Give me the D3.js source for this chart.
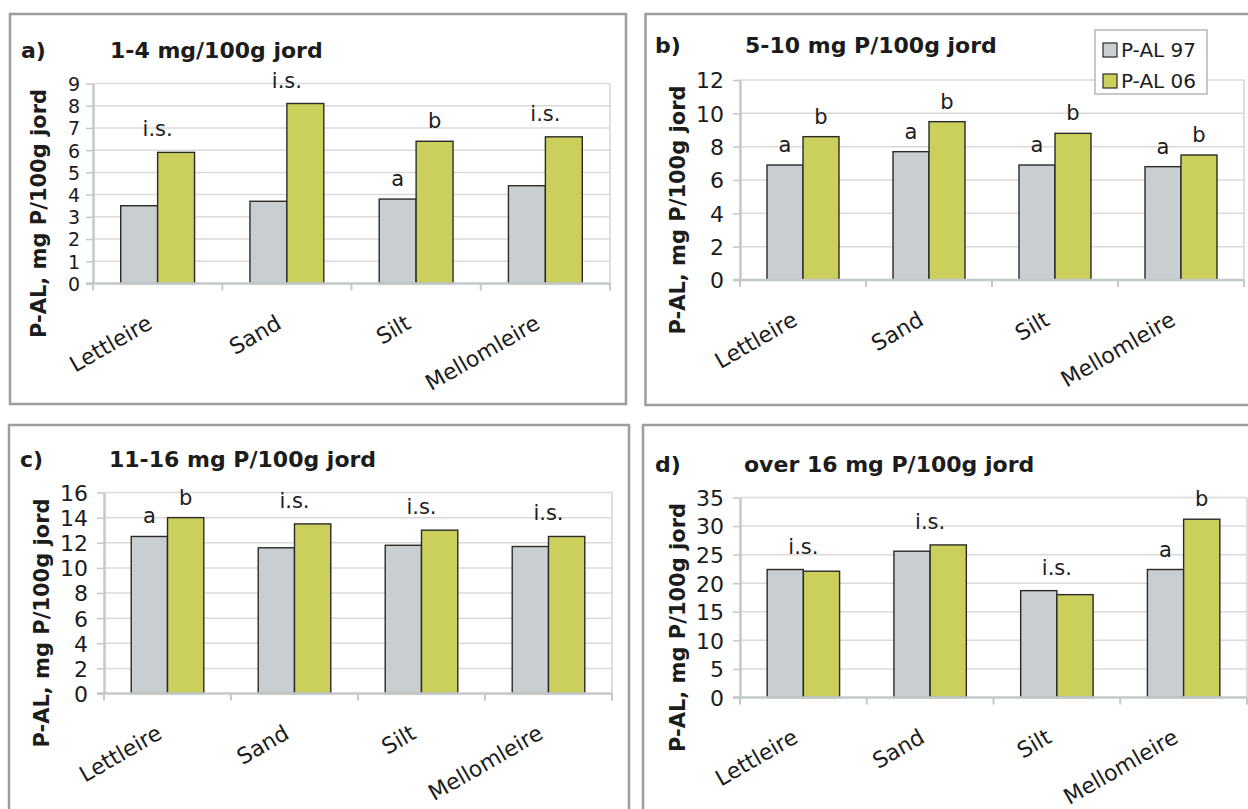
<!DOCTYPE html>
<html>
<head>
<meta charset="utf-8">
<script src="https://cdn.jsdelivr.net/npm/d3@7/dist/d3.min.js"></script>
<style>
  html, body { margin: 0; padding: 0; background: #ffffff; }
  svg { display: block; }
  text { font-family: "DejaVu Sans", Verdana, sans-serif; fill: #1c1c1c; }
</style>
</head>
<body>
<svg id="chart" width="1248" height="809"></svg>
<script>
// ---- data ----
const categories = ["Lettleire", "Sand", "Silt", "Mellomleire"];
const seriesNames = ["P-AL 97", "P-AL 06"];
const panelIds = ["a)", "b)", "c)", "d)"];
const panelTitles = ["1-4 mg/100g jord", "5-10 mg P/100g jord", "11-16 mg P/100g jord", "over 16 mg P/100g jord"];
const yAxisTitle = "P-AL, mg P/100g jord";

// mean P-AL per soil type, 1997 and 2006
const palA97 = [3.5, 3.7, 3.8, 4.4];
const palA06 = [5.9, 8.1, 6.4, 6.6];
const palB97 = [6.9, 7.7, 6.9, 6.8];
const palB06 = [8.6, 9.5, 8.8, 7.5];
const palC97 = [12.5, 11.6, 11.8, 11.7];
const palC06 = [14.0, 13.5, 13.0, 12.5];
const palD97 = [22.4, 25.6, 18.7, 22.4];
const palD06 = [22.1, 26.7, 18.0, 31.2];

// y tick values
const yTicksA = [0, 1, 2, 3, 4, 5, 6, 7, 8, 9];
const yTicksB = [0, 2, 4, 6, 8, 10, 12];
const yTicksC = [0, 2, 4, 6, 8, 10, 12, 14, 16];
const yTicksD = [0, 5, 10, 15, 20, 25, 30, 35];

// significance letters: on = series index, or "both" for the pair
const sigA = [
  { cat: "Lettleire", on: "both", text: "i.s." },
  { cat: "Sand", on: "both", text: "i.s." },
  { cat: "Silt", on: 0, text: "a" },
  { cat: "Silt", on: 1, text: "b" },
  { cat: "Mellomleire", on: "both", text: "i.s." }
];
const sigB = [
  { cat: "Lettleire", on: 0, text: "a" }, { cat: "Lettleire", on: 1, text: "b" },
  { cat: "Sand", on: 0, text: "a" }, { cat: "Sand", on: 1, text: "b" },
  { cat: "Silt", on: 0, text: "a" }, { cat: "Silt", on: 1, text: "b" },
  { cat: "Mellomleire", on: 0, text: "a" }, { cat: "Mellomleire", on: 1, text: "b" }
];
const sigC = [
  { cat: "Lettleire", on: 0, text: "a" }, { cat: "Lettleire", on: 1, text: "b" },
  { cat: "Sand", on: "both", text: "i.s." },
  { cat: "Silt", on: "both", text: "i.s." },
  { cat: "Mellomleire", on: "both", text: "i.s." }
];
const sigD = [
  { cat: "Lettleire", on: "both", text: "i.s." },
  { cat: "Sand", on: "both", text: "i.s." },
  { cat: "Silt", on: "both", text: "i.s." },
  { cat: "Mellomleire", on: 0, text: "a" }, { cat: "Mellomleire", on: 1, text: "b" }
];

// ---- styling / layout ----
const fills = ["#c9ced1", "#cbcf5b"];
const panels = [
  { id: panelIds[0], title: panelTitles[0], s97: palA97, s06: palA06, ticks: yTicksA, sig: sigA,
    frame: [10, 14, 616, 390], plot: { x0: 93, x1: 610, top: 83.5, bottom: 283.5 },
    idX: 21, titleX: 110, titleY: 58, ylabX: 46, tickPad: 13, tickFont: 19, legend: false },
  { id: panelIds[1], title: panelTitles[1], s97: palB97, s06: palB06, ticks: yTicksB, sig: sigB,
    frame: [645.5, 14, 640, 391], plot: { x0: 740, x1: 1244, top: 80, bottom: 280 },
    idX: 655, titleX: 745, titleY: 53, ylabX: 685, tickPad: 16, tickFont: 22, legend: true },
  { id: panelIds[2], title: panelTitles[2], s97: palC97, s06: palC06, ticks: yTicksC, sig: sigC,
    frame: [9, 425, 620, 420], plot: { x0: 104, x1: 612, top: 492.5, bottom: 693.5 },
    idX: 20, titleX: 109, titleY: 467, ylabX: 49, tickPad: 16, tickFont: 22, legend: false },
  { id: panelIds[3], title: panelTitles[3], s97: palD97, s06: palD06, ticks: yTicksD, sig: sigD,
    frame: [643, 425, 640, 420], plot: { x0: 740, x1: 1247, top: 497.5, bottom: 697.5 },
    idX: 655, titleX: 744, titleY: 472, ylabX: 685, tickPad: 16, tickFont: 22, legend: false }
];

const svg = d3.select("#chart");
svg.append("rect").attr("width", 1248).attr("height", 809).attr("fill", "#ffffff");

panels.forEach(p => {
  const g = svg.append("g");
  const { x0, x1, top, bottom } = p.plot;
  const yMax = p.ticks[p.ticks.length - 1];

  // panel frame
  g.append("rect")
    .attr("x", p.frame[0]).attr("y", p.frame[1])
    .attr("width", p.frame[2]).attr("height", p.frame[3])
    .attr("fill", "none").attr("stroke", "#9d9d9d").attr("stroke-width", 2.5);

  const x = d3.scaleBand().domain(categories).range([x0, x1]).paddingInner(0).paddingOuter(0);
  const xs = d3.scaleBand().domain([0, 1]).range([0, x.bandwidth()]).paddingInner(0).paddingOuter(0.75);
  const y = d3.scaleLinear().domain([0, yMax]).range([bottom, top]);

  // gridlines
  g.append("g").selectAll("line").data(p.ticks.filter(t => t > 0)).join("line")
    .attr("x1", x0).attr("x2", x1)
    .attr("y1", d => y(d)).attr("y2", d => y(d))
    .attr("stroke", "#dadada").attr("stroke-width", 1.5);
  // right edge of plot area
  g.append("line").attr("x1", x1).attr("x2", x1).attr("y1", y(yMax)).attr("y2", y(0) + 7)
    .attr("stroke", "#d3d3d3").attr("stroke-width", 1.5);

  // y axis
  const yAxis = d3.axisLeft(y).tickValues(p.ticks).tickSize(7).tickSizeOuter(0).tickPadding(p.tickPad - 7);
  const ya = g.append("g").attr("transform", `translate(${x0},0)`).call(yAxis);
  ya.select(".domain").attr("stroke", "#c3c8c8").attr("stroke-width", 2.5);
  ya.selectAll(".tick line").attr("stroke", "#c3c8c8").attr("stroke-width", 1.5);
  ya.selectAll(".tick text")
    .style("font-family", "'DejaVu Sans', Verdana, sans-serif")
    .attr("font-size", p.tickFont).attr("fill", "#1c1c1c").attr("dy", "0.36em");

  // bars
  const rows = categories.map((c, i) => ({ cat: c, vals: [p.s97[i], p.s06[i]] }));
  const grp = g.append("g").selectAll("g").data(rows).join("g")
    .attr("transform", d => `translate(${x(d.cat)},0)`);
  grp.selectAll("rect").data(d => d.vals.map((v, k) => ({ k, v }))).join("rect")
    .attr("x", d => xs(d.k)).attr("width", xs.bandwidth())
    .attr("y", d => y(d.v)).attr("height", d => y(0) - y(d.v))
    .attr("fill", d => fills[d.k]).attr("stroke", "#2a2a2a").attr("stroke-width", 1.4);

  // x axis line and category boundary ticks
  g.append("line").attr("x1", x0 - 7).attr("x2", x1).attr("y1", y(0)).attr("y2", y(0))
    .attr("stroke", "#c3c8c8").attr("stroke-width", 2.5);
  const bounds = categories.map(c => x(c)).concat([x.range()[1]]);
  g.append("g").selectAll("line").data(bounds).join("line")
    .attr("x1", d => d).attr("x2", d => d).attr("y1", y(0)).attr("y2", y(0) + 7)
    .attr("stroke", "#c3c8c8").attr("stroke-width", 2);

  // category labels, rotated
  g.append("g").selectAll("text").data(categories).join("text")
    .attr("transform", c => `translate(${x(c) + x.bandwidth() / 2 - 4},${y(0) + 44}) rotate(-30)`)
    .attr("text-anchor", "end").attr("font-size", 22)
    .text(c => c);

  // significance letters
  g.append("g").selectAll("text").data(p.sig).join("text")
    .attr("text-anchor", "middle").attr("font-size", 21)
    .attr("x", d => d.on === "both" ? x(d.cat) + x.bandwidth() / 2 : x(d.cat) + xs(d.on) + xs.bandwidth() / 2)
    .attr("y", d => {
      const i = categories.indexOf(d.cat);
      const v = [p.s97[i], p.s06[i]];
      return d.on === "both" ? y(Math.max(v[0], v[1])) - 16 : y(v[d.on]) - 13;
    })
    .text(d => d.text);

  // titles
  g.append("text").attr("x", p.idX).attr("y", p.titleY)
    .attr("font-size", 22).attr("font-weight", "bold").text(p.id);
  g.append("text").attr("x", p.titleX).attr("y", p.titleY)
    .attr("font-size", 22).attr("font-weight", "bold").text(p.title);

  // y axis title
  g.append("text")
    .attr("transform", `translate(${p.ylabX},${(top + bottom) / 2 + 30}) rotate(-90)`)
    .attr("text-anchor", "middle").attr("font-size", 21).attr("font-weight", "bold")
    .text(yAxisTitle);

  // legend
  if (p.legend) {
    const lg = g.append("g");
    lg.append("rect").attr("x", 1095).attr("y", 30).attr("width", 112).attr("height", 64)
      .attr("fill", "#ffffff").attr("stroke", "#c8c8c8").attr("stroke-width", 2);
    seriesNames.forEach((name, k) => {
      lg.append("rect").attr("x", 1103).attr("y", 43 + k * 31).attr("width", 14).attr("height", 14)
        .attr("fill", fills[k]).attr("stroke", "#2a2a2a").attr("stroke-width", 1.2);
      lg.append("text").attr("x", 1121).attr("y", 57 + k * 31)
        .attr("font-size", 20).text(name);
    });
  }
});
</script>
</body>
</html>
